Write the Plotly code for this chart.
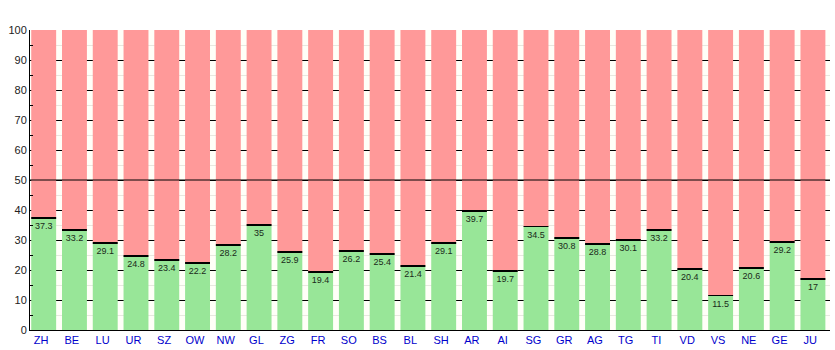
import plotly.graph_objects as go

cantons = ["ZH", "BE", "LU", "UR", "SZ", "OW", "NW", "GL", "ZG", "FR", "SO", "BS", "BL",
           "SH", "AR", "AI", "SG", "GR", "AG", "TG", "TI", "VD", "VS", "NE", "GE", "JU"]
yes_share = [37.3, 33.2, 29.1, 24.8, 23.4, 22.2, 28.2, 35, 25.9, 19.4, 26.2, 25.4, 21.4,
             29.1, 39.7, 19.7, 34.5, 30.8, 28.8, 30.1, 33.2, 20.4, 11.5, 20.6, 29.2, 17]
no_share = [round(100 - v, 1) for v in yes_share]
threshold = 50

green = "#98e698"
red = "#ff9999"
bar_w = 0.81
bar_off = -0.32
sep = 0.3  # thickness of the separator line in data units

fig = go.Figure()
fig.add_trace(go.Bar(
    x=cantons, y=no_share, base=yes_share, width=bar_w, offset=bar_off,
    marker=dict(color=red, line=dict(width=0)), hoverinfo="skip", showlegend=False,
))
fig.add_trace(go.Bar(
    x=cantons, y=yes_share, width=bar_w, offset=bar_off,
    marker=dict(color=green, line=dict(width=0)),
    text=[f"{v:g}" for v in yes_share], textposition="inside", insidetextanchor="end",
    textangle=0, textfont=dict(size=9, color="#1a2a1a", family="Liberation Sans"),
    constraintext="none", hoverinfo="skip", showlegend=False,
))
# black separator at top of each green segment
fig.add_trace(go.Bar(
    x=cantons, y=[sep] * len(cantons), base=[v - sep / 2 for v in yes_share],
    width=bar_w, offset=bar_off,
    marker=dict(color="black", line=dict(width=0)), hoverinfo="skip", showlegend=False,
))

fig.add_shape(type="line", xref="paper", x0=0, x1=1, yref="y", y0=threshold, y1=threshold,
              line=dict(color="black", width=1), layer="above")

fig.update_layout(
    width=835, height=350,
    margin=dict(l=30, r=5, t=30, b=20),
    barmode="overlay",
    paper_bgcolor="white", plot_bgcolor="#fffff8",
    font=dict(family="Liberation Sans", size=11, color="black"),
    xaxis=dict(
        showline=True, linecolor="black", linewidth=1, ticks="",
        tickfont=dict(color="#0000cc", size=11), showgrid=False,
        range=[-0.36, len(cantons) - 0.36],
    ),
    yaxis=dict(
        range=[0, 100], dtick=10, showline=True, linecolor="black", linewidth=1,
        showgrid=True, gridcolor="black", gridwidth=1, ticks="", zeroline=False,
        tickfont=dict(size=11, color="#222"),
        minor=dict(dtick=5, showgrid=True, gridcolor="#e8e8e0", ticks="inside", ticklen=3, tickcolor="black"),
    ),
)

fig.write_html("out.html")
